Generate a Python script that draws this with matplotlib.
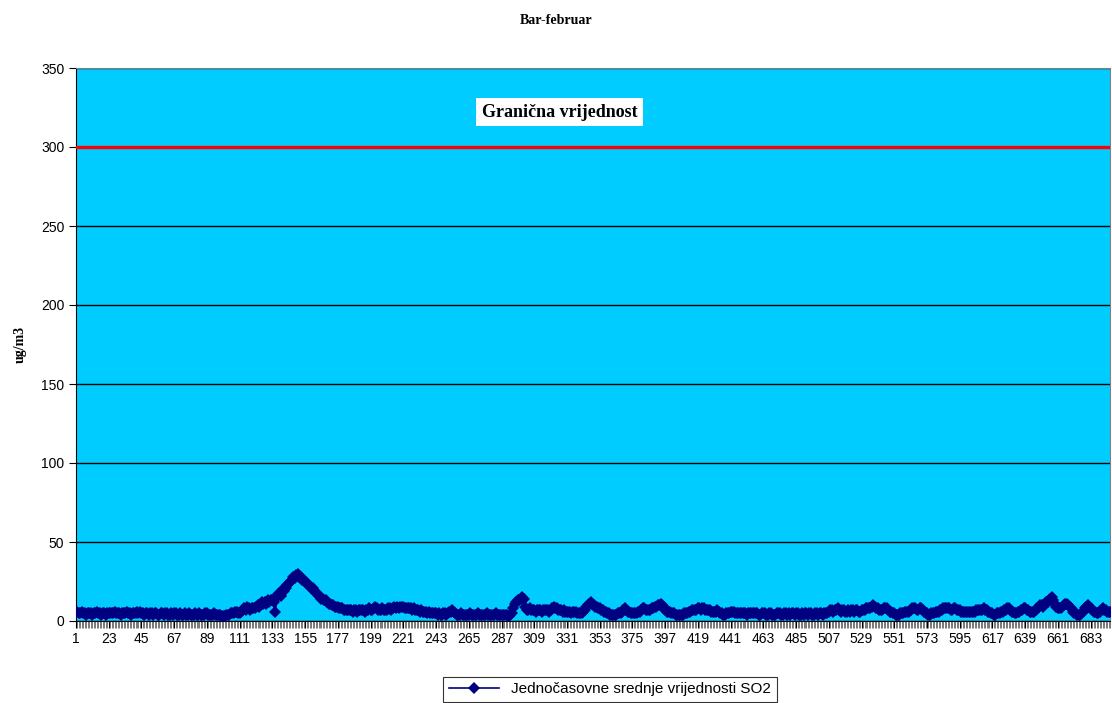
import numpy as np
import matplotlib.pyplot as plt

# hourly SO2 (ug/m3), one row per day
day01 = [6, 6, 5, 5, 6, 5, 5, 4, 5, 5, 5, 4, 5, 5, 6, 5, 5, 4, 5, 5, 4, 5, 5, 5]
day02 = [5, 5, 6, 5, 5, 5, 4, 5, 5, 5, 6, 5, 5, 4, 5, 5, 5, 6, 5, 6, 5, 5, 4, 5]
day03 = [5, 4, 5, 5, 4, 5, 5, 4, 4, 5, 5, 4, 5, 5, 4, 4, 5, 4, 5, 5, 4, 4, 5, 4]
day04 = [4, 5, 4, 4, 5, 4, 4, 4, 5, 4, 4, 5, 4, 4, 4, 5, 5, 4, 4, 4, 4, 5, 4, 4]
day05 = [4, 4, 3, 3, 3, 4, 4, 4, 5, 5, 5, 6, 6, 5, 5, 6, 7, 8, 7, 9, 8, 7, 8, 8]
day06 = [8, 9, 10, 9, 11, 12, 11, 12, 11, 13, 12, 13, 13, 12, 6, 15, 17, 18, 16, 20, 19, 21, 23, 24]
day07 = [25, 26, 28, 27, 29, 30, 28, 28, 26, 26, 25, 24, 23, 22, 21, 21, 19, 18, 18, 16, 15, 14, 14, 13]
day08 = [13, 12, 11, 11, 10, 10, 9, 9, 9, 8, 8, 8, 7, 7, 7, 7, 7, 7, 6, 7, 7, 6, 7, 7]
day09 = [7, 7, 6, 7, 7, 8, 7, 7, 8, 9, 8, 7, 7, 7, 8, 7, 7, 7, 8, 8, 7, 8, 9, 8]
day10 = [9, 8, 9, 9, 9, 8, 8, 8, 8, 8, 7, 8, 7, 7, 7, 6, 7, 6, 6, 6, 5, 6, 5, 5]
day11 = [5, 5, 5, 4, 5, 4, 4, 5, 5, 4, 5, 6, 6, 7, 6, 5, 4, 4, 4, 5, 4, 4, 4, 4]
day12 = [4, 5, 4, 4, 4, 4, 5, 4, 4, 4, 4, 4, 5, 4, 4, 4, 4, 4, 5, 4, 4, 4, 4, 4]
day13 = [4, 4, 4, 3, 4, 5, 8, 11, 12, 13, 13, 14, 15, 14, 9, 7, 7, 8, 7, 7, 7, 6, 7, 7]
day14 = [7, 6, 7, 7, 7, 7, 6, 7, 8, 9, 8, 8, 7, 7, 7, 6, 7, 6, 6, 6, 6, 5, 6, 6]
day15 = [6, 5, 5, 5, 5, 6, 7, 9, 10, 11, 12, 11, 10, 9, 9, 8, 8, 7, 7, 6, 6, 5, 5, 4]
day16 = [4, 4, 4, 4, 5, 5, 5, 6, 7, 8, 7, 6, 6, 5, 5, 5, 5, 5, 6, 6, 7, 8, 8, 7]
day17 = [7, 7, 7, 8, 8, 9, 9, 10, 10, 11, 10, 9, 7, 6, 6, 6, 5, 5, 5, 4, 4, 4, 4, 4]
day18 = [4, 5, 5, 5, 6, 6, 7, 7, 7, 7, 8, 8, 7, 8, 8, 7, 7, 7, 7, 6, 6, 6, 6, 7]
day19 = [6, 5, 5, 4, 4, 5, 5, 5, 6, 6, 6, 5, 5, 5, 5, 5, 5, 5, 5, 4, 5, 5, 5, 5]
day20 = [5, 5, 5, 4, 4, 5, 5, 5, 4, 4, 5, 5, 4, 4, 4, 5, 5, 5, 4, 4, 5, 5, 4, 5]
day21 = [4, 5, 5, 4, 5, 5, 4, 4, 5, 4, 5, 5, 4, 5, 5, 4, 4, 5, 5, 4, 5, 5, 4, 5]
day22 = [5, 5, 6, 7, 7, 6, 7, 7, 8, 7, 6, 7, 7, 6, 6, 7, 6, 7, 7, 6, 7, 7, 6, 6]
day23 = [7, 7, 7, 8, 8, 8, 8, 9, 10, 9, 8, 8, 7, 7, 7, 8, 8, 8, 7, 6, 6, 5, 5, 4]
day24 = [4, 4, 5, 5, 5, 6, 6, 6, 6, 7, 8, 8, 8, 7, 7, 8, 8, 7, 6, 5, 5, 4, 4, 5]
day25 = [5, 5, 6, 6, 6, 7, 7, 8, 8, 8, 8, 8, 7, 7, 8, 8, 7, 7, 7, 6, 6, 6, 6, 6]
day26 = [6, 6, 6, 6, 6, 7, 7, 7, 7, 7, 8, 7, 7, 6, 6, 5, 5, 4, 4, 5, 5, 5, 6, 6]
day27 = [7, 7, 8, 8, 7, 6, 6, 5, 5, 6, 6, 7, 7, 8, 8, 7, 7, 6, 6, 6, 6, 7, 8, 9]
day28 = [10, 10, 9, 11, 12, 12, 13, 14, 15, 13, 11, 9, 8, 8, 8, 9, 10, 11, 11, 10, 9, 8, 6, 5]
day29 = [5, 4, 4, 4, 5, 6, 8, 9, 10, 9, 8, 7, 6, 6, 5, 5, 6, 7, 8, 7, 7, 6, 6, 6]

days = [day01, day02, day03, day04, day05, day06, day07, day08, day09, day10,
        day11, day12, day13, day14, day15, day16, day17, day18, day19, day20,
        day21, day22, day23, day24, day25, day26, day27, day28, day29]
so2 = np.concatenate(days)
hours = np.arange(1, len(so2) + 1)

limit = 300
tick_labels = list(range(1, 684, 22))

fig = plt.figure(figsize=(11.12, 7.03), dpi=100)
ax = fig.add_axes([76 / 1112, 82 / 703, 1034 / 1112, 553 / 703])
ax.set_facecolor('#00CCFF')

ax.axhline(limit, color='#FF0000', lw=2.4, zorder=3)
ax.plot(hours, so2, color='#000080', lw=1.2, marker='D', markersize=6,
        markeredgewidth=0, label='Jednočasovne srednje vrijednosti SO2', zorder=4)

ax.set_xlim(1, len(so2))
ax.set_ylim(0, 350)
ax.set_yticks(range(0, 351, 50))
ax.yaxis.grid(True, color='black', lw=1)
ax.set_axisbelow(True)

ax.set_xticks(tick_labels)
ax.set_xticklabels([str(t) for t in tick_labels])
ax.set_xticks(hours, minor=True)
ax.tick_params(axis='x', which='major', length=5, width=0.8, labelsize=10, pad=3)
ax.tick_params(axis='x', which='minor', length=5, width=0.5, color='#444444')
ax.tick_params(axis='y', length=5, width=0.8, labelsize=10)
for lbl in ax.get_xticklabels() + ax.get_yticklabels():
    lbl.set_family('Liberation Sans')

ax.spines['top'].set_color('#808080')
ax.spines['right'].set_color('#808080')

ax.set_ylabel('ug/m3', family='Liberation Serif', fontweight='bold', fontsize=10, labelpad=10)
fig.text(0.5, 1 - 20 / 703, 'Bar-februar', family='Liberation Serif', fontweight='bold',
         fontsize=10, ha='center', va='center')

ax.text(326, 322, 'Granična vrijednost', family='Liberation Serif', fontweight='bold',
        fontsize=13, ha='center', va='center', zorder=5,
        bbox=dict(facecolor='white', edgecolor='none', pad=4))

leg = fig.legend(loc='upper center', bbox_to_anchor=(610 / 1112, 1 - 677 / 703),
                 borderaxespad=0, frameon=True, fancybox=False, edgecolor='black',
                 borderpad=0.35, prop={'family': 'Liberation Sans', 'size': 11},
                 handlelength=3.3)
leg.get_frame().set_linewidth(0.8)

fig.savefig('out.png', dpi=100)
plt.close(fig)
